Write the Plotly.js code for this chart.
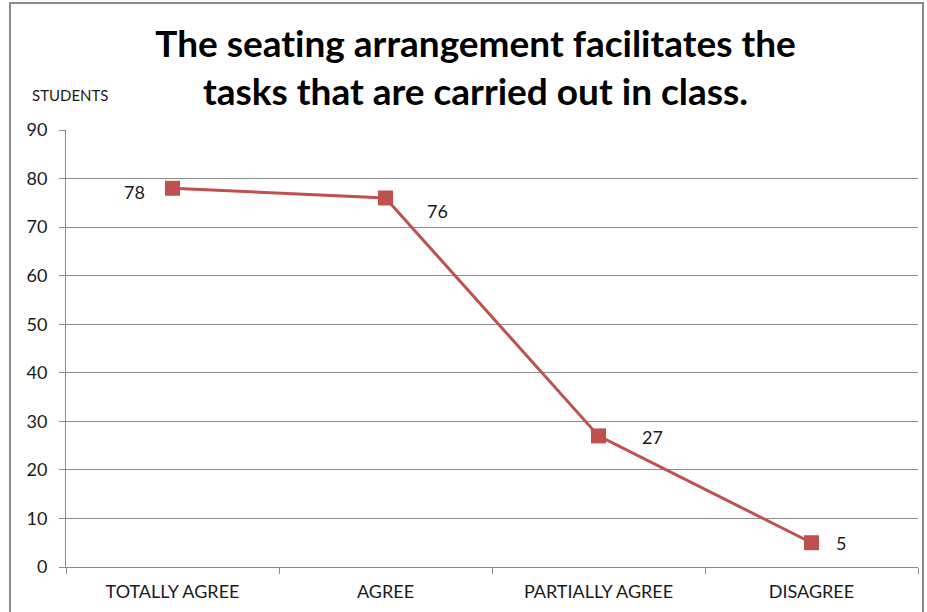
<!DOCTYPE html>
<html>
<head>
<meta charset="utf-8">
<script src="https://cdn.plot.ly/plotly-3.0.1.min.js"></script>
<style>
  html, body { margin: 0; padding: 0; background: #fff; }
  #chart { width: 927px; height: 612px; }
  #chart text { font-variant-ligatures: none; font-feature-settings: "liga" 0; }
  #frame { position: absolute; left: 9px; top: 2px; width: 911px; height: 640px;
           border: 2px solid #8c8c8c; pointer-events: none; }
</style>
</head>
<body>
<div id="chart"></div>
<div id="frame"></div>
<script>
var categories = ['TOTALLY AGREE', 'AGREE', 'PARTIALLY AGREE', 'DISAGREE'];
var students = [78, 76, 27, 5];
var yTicks = [0, 10, 20, 30, 40, 50, 60, 70, 80, 90];

// label placement around each point (pixels)
var labelDx = [-26, 39, 41, 22];
var labelDy = [-4, -13, -1, 0];
var labelSide = ['right', 'left', 'left', 'left'];

var red = '#C0504D';

var trace = {
    x: categories,
    y: students,
    mode: 'lines+markers',
    line: { color: red, width: 3 },
    marker: { symbol: 'square', size: 15, color: red },
    hoverinfo: 'x+y'
};

var annotations = students.map(function(v, i) {
    return {
        x: categories[i], y: v, xref: 'x', yref: 'y',
        text: String(v), showarrow: false,
        xanchor: labelSide[i], xshift: labelDx[i], yshift: labelDy[i],
        font: { family: 'Lato, sans-serif', size: 18, color: '#1a1a1a' }
    };
});

annotations.push({
    x: -0.042, y: 1.08, xref: 'paper', yref: 'paper',
    text: 'STUDENTS', showarrow: false, xanchor: 'left', yanchor: 'middle',
    font: { family: 'Lato, sans-serif', size: 15, color: '#1a1a1a' }
});

var layout = {
    width: 927,
    height: 612,
    margin: { l: 66, r: 9, t: 130, b: 45 },
    paper_bgcolor: '#fff',
    plot_bgcolor: '#fff',
    showlegend: false,
    title: {
        text: 'The seating arrangement facilitates the<br>tasks that are carried out in class.',
        font: { family: 'Lato, sans-serif', size: 37, color: '#000', weight: 'bold' },
        x: 0.513, xref: 'container', xanchor: 'center',
        y: 0.907, yref: 'container', yanchor: 'top'
    },
    xaxis: {
        type: 'category',
        range: [-0.5, 3.5],
        tickson: 'boundaries',
        ticks: 'outside', ticklen: 6, tickcolor: '#888',
        showline: true, linecolor: '#888', linewidth: 1,
        showgrid: false,
        ticklabelstandoff: 8,
        tickfont: { family: 'Lato, sans-serif', size: 18, color: '#1a1a1a' },
        fixedrange: true
    },
    yaxis: {
        range: [0, 90],
        tickvals: yTicks,
        ticks: 'outside', ticklen: 6, tickcolor: '#888',
        showline: true, linecolor: '#888', linewidth: 1,
        showgrid: true, gridcolor: '#8c8c8c', gridwidth: 1,
        zeroline: false,
        ticklabelstandoff: 8,
        tickfont: { family: 'Lato, sans-serif', size: 18, color: '#1a1a1a' },
        fixedrange: true
    },
    annotations: annotations
};

Plotly.newPlot('chart', [trace], layout, { displayModeBar: false, staticPlot: true });
</script>
</body>
</html>
